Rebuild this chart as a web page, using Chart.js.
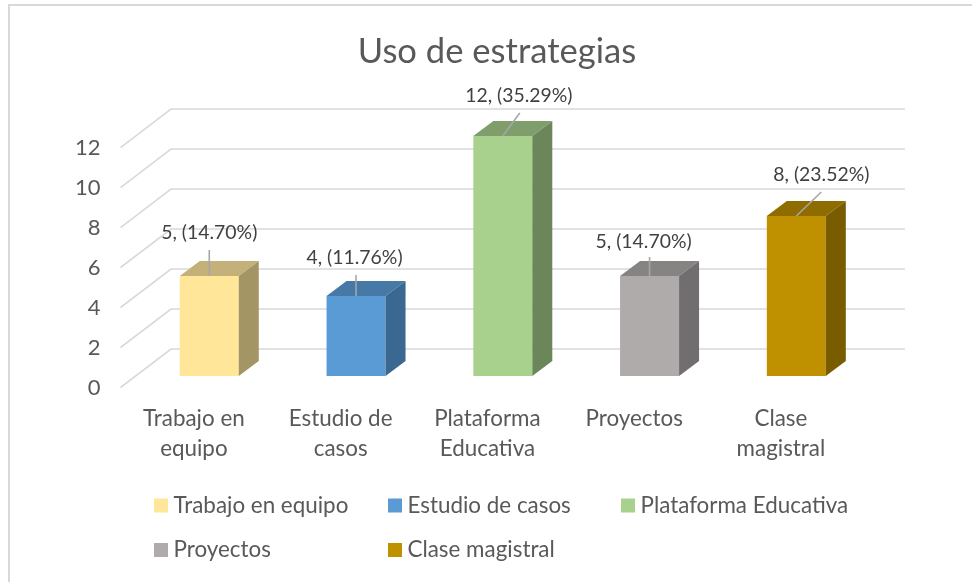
<!DOCTYPE html>
<html>
<head>
<meta charset="utf-8">
<style>html,body{margin:0;padding:0;background:#fff}#w{width:972px;height:582px}canvas{display:block}</style>
<script src="https://cdn.jsdelivr.net/npm/chart.js@4"></script>
</head>
<body>
<div id="w"><canvas id="c" width="972" height="582"></canvas></div>
<script>
const chartTitle = "Uso de estrategias";
const categories = ["Trabajo en equipo", "Estudio de casos", "Plataforma Educativa", "Proyectos", "Clase magistral"];
const axisLabels = [["Trabajo en", "equipo"], ["Estudio de", "casos"], ["Plataforma", "Educativa"], ["Proyectos"], ["Clase", "magistral"]];
const values = [5, 4, 12, 5, 8];
const percents = ["14.70", "11.76", "35.29", "14.70", "23.52"];
const frontColors = ["#FFE699", "#5B9BD5", "#A9D18E", "#AFABAB", "#BF9000"];
const topColors = ["#C4B17A", "#4679A6", "#7F9E6B", "#868383", "#8F6C00"];
const sideColors = ["#A39564", "#3A6890", "#6B8659", "#706E6E", "#7A5C00"];
const labelShiftX = [0, -1.5, 16, -6, 25];
const labelShiftY = [43, 38, 40, 34, 41];
const leaderShiftX = [0, 0, 17, 0, 25];
const leaderShiftY = [26, 21, 23, 19, 24];

const FONT = "Lato";
const floorX = 15.4, floorY = -11.5; // bars stand this far into the floor
const depthX = 20, depthY = -15;     // bar depth
const wallX = 50.5, wallY = -38.5;   // back wall offset from the front edge
const legendCols = [154, 388, 621];
const legendRows = [505.5, 550];

const scene = {
  id: "scene",
  afterLayout(chart) {
    chart.titleBlock.left = 22;
    chart.titleBlock.right = 972;
  },
  beforeDraw(chart) {
    const c = chart.ctx;
    c.save();
    c.fillStyle = "#D9D9D9";
    c.fillRect(8, 4, 2, 578);
    c.fillRect(8, 4, 964, 2);
    c.restore();
  },
  beforeDatasetsDraw(chart) {
    const c = chart.ctx, y = chart.scales.y, a = chart.chartArea;
    c.save();
    c.strokeStyle = "#D9D9D9";
    c.lineWidth = 1.6;
    y.ticks.forEach(t => {
      const py = y.getPixelForValue(t.value);
      c.beginPath();
      c.moveTo(a.left, py);
      c.lineTo(a.left + wallX, py + wallY);
      c.lineTo(a.right + wallX, py + wallY);
      c.stroke();
    });
    c.restore();
    c.save();
    c.translate(floorX, floorY);
  },
  afterDatasetsDraw(chart) {
    const c = chart.ctx;
    chart.getDatasetMeta(0).data.forEach((b, i) => {
      const l = b.x - b.width / 2, r = b.x + b.width / 2;
      c.fillStyle = topColors[i];
      c.beginPath();
      c.moveTo(l, b.y); c.lineTo(l + depthX, b.y + depthY);
      c.lineTo(r + depthX, b.y + depthY); c.lineTo(r, b.y);
      c.closePath(); c.fill();
      c.fillStyle = sideColors[i];
      c.beginPath();
      c.moveTo(r, b.y); c.lineTo(r + depthX, b.y + depthY);
      c.lineTo(r + depthX, b.base + depthY); c.lineTo(r, b.base);
      c.closePath(); c.fill();
    });
    c.restore();
  },
  afterDraw(chart) {
    const c = chart.ctx;
    c.save();
    chart.getDatasetMeta(0).data.forEach((b, i) => {
      const x = b.x + floorX, y = b.y + floorY;
      c.strokeStyle = "#A6A6A6";
      c.lineWidth = 1.6;
      c.beginPath();
      c.moveTo(x, y);
      c.lineTo(x + leaderShiftX[i], y - leaderShiftY[i]);
      c.stroke();
      c.fillStyle = "#404040";
      c.font = "19.4px " + FONT;
      c.textAlign = "center";
      c.textBaseline = "middle";
      c.fillText(values[i] + ", (" + percents[i] + "%)", x + labelShiftX[i], y - labelShiftY[i]);
    });
    c.textAlign = "left";
    c.textBaseline = "middle";
    c.font = "22.4px " + FONT;
    categories.forEach((name, i) => {
      const bx = legendCols[i % 3], by = legendRows[Math.floor(i / 3)];
      c.fillStyle = frontColors[i];
      c.fillRect(bx, by - 7, 14, 14);
      c.fillStyle = "#595959";
      c.fillText(name, bx + 19.5, by);
    });
    c.restore();
  }
};

new Chart(document.getElementById("c"), {
  type: "bar",
  data: {
    labels: axisLabels,
    datasets: [{ data: values, backgroundColor: frontColors, borderWidth: 0, categoryPercentage: 1, barPercentage: 0.402 }]
  },
  options: {
    responsive: false,
    animation: false,
    layout: { padding: { left: 0, right: 117.7, top: 0, bottom: 94.5 } },
    plugins: {
      legend: { display: false },
      tooltip: { enabled: false },
      title: {
        display: true, text: chartTitle, color: "#595959",
        font: { family: FONT, size: 34.6, weight: "normal", lineHeight: 1.2 },
        padding: { top: 31, bottom: 75 }
      }
    },
    scales: {
      x: {
        grid: { display: false, drawTicks: false },
        border: { display: false },
        ticks: { color: "#595959", font: { family: FONT, size: 22.4, lineHeight: 1.34 }, padding: 16, maxRotation: 0, autoSkip: false },
        afterFit(s) { s.height = 100; }
      },
      y: {
        min: 0, max: 12,
        grid: { display: false, drawTicks: false },
        border: { display: false },
        ticks: { stepSize: 2, color: "#595959", font: { family: FONT, size: 22 }, padding: 20 },
        afterFit(s) { s.width = 120.5; }
      }
    }
  },
  plugins: [scene]
});
</script>
</body>
</html>
